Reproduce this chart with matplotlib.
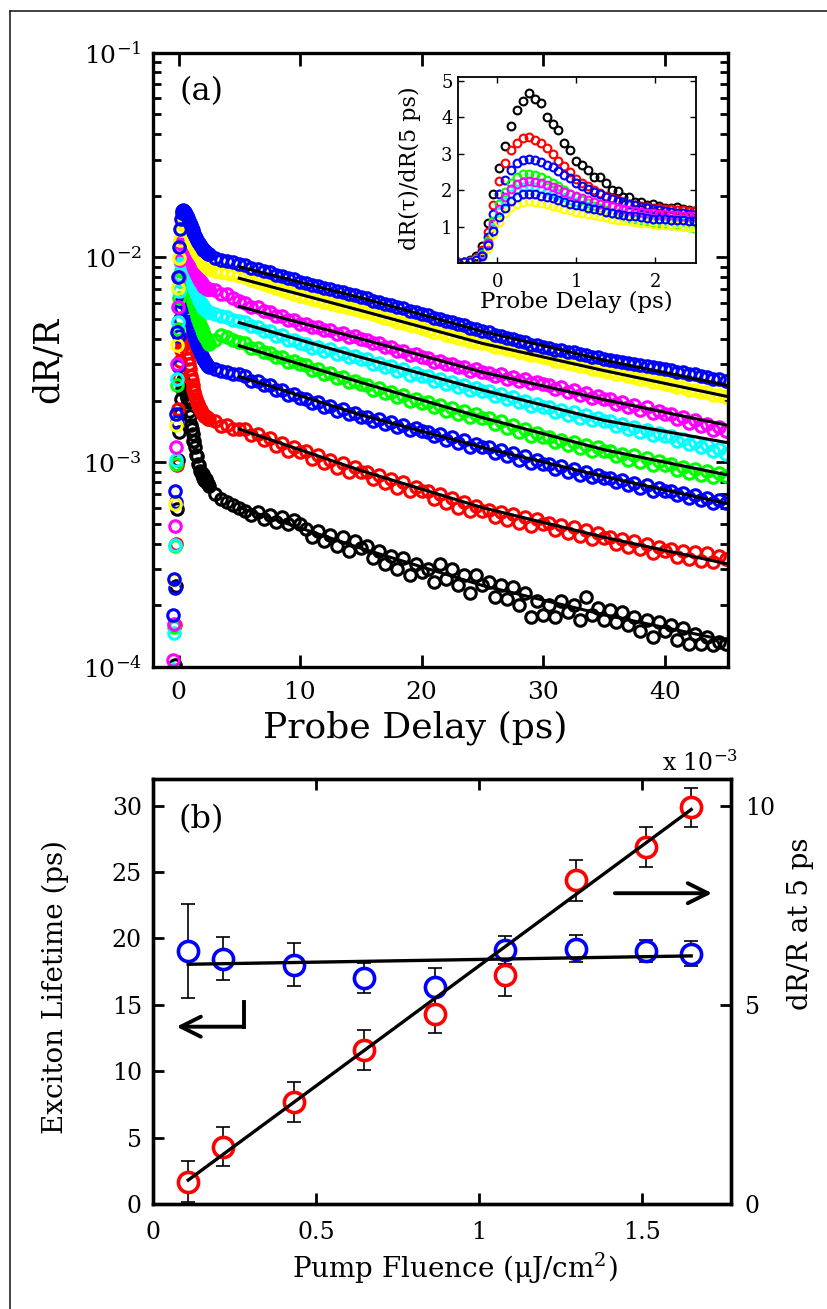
import numpy as np
import matplotlib
matplotlib.use("Agg")
from matplotlib import pyplot as plt
from matplotlib.lines import Line2D
from matplotlib.ticker import LogLocator, NullLocator

plt.rcParams["font.family"] = "DejaVu Serif"
plt.rcParams["mathtext.fontset"] = "dejavuserif"

W, H = 827, 1309

# ---------------- panel (a) data ----------------
# probe delays (ps): early window shown in the inset, then the slow tail
t_early = np.round(np.linspace(-0.5, 2.5, 41), 3)
t_late = np.round(np.arange(3.0, 45.01, 0.5), 1)
t_fit = [5, 15, 25, 35, 45]

# inset: dR(tau)/dR(5 ps) over t_early, lowest fluence first
ratio_k = [0.02, 0.04, 0.07, 0.19, 0.46, 1.1, 1.9, 2.6, 3.2, 3.75, 4.2, 4.45, 4.65,
           4.5, 4.4, 4.0, 3.8, 3.65, 3.3, 3.1, 2.8, 2.7, 2.55, 2.35, 2.35, 2.2, 2.0,
           1.98, 1.82, 1.8, 1.68, 1.66, 1.6, 1.62, 1.55, 1.52, 1.5, 1.53, 1.48, 1.45, 1.42]
ratio_r = [0.02, 0.03, 0.05, 0.14, 0.35, 0.85, 1.6, 2.25, 2.75, 3.1, 3.3, 3.42, 3.45,
           3.38, 3.3, 3.15, 3.0, 2.8, 2.65, 2.5, 2.3, 2.2, 2.1, 2.0, 1.92, 1.85, 1.78,
           1.72, 1.68, 1.63, 1.6, 1.57, 1.53, 1.5, 1.5, 1.48, 1.47, 1.45, 1.45, 1.43, 1.42]
ratio_b2 = [0.01, 0.02, 0.04, 0.11, 0.29, 0.71, 1.34, 1.88, 2.28, 2.56, 2.74, 2.82, 2.85,
            2.82, 2.78, 2.7, 2.62, 2.52, 2.42, 2.32, 2.2, 2.12, 2.04, 1.96, 1.88, 1.82,
            1.76, 1.7, 1.66, 1.62, 1.58, 1.54, 1.5, 1.47, 1.45, 1.43, 1.4, 1.38, 1.36, 1.34, 1.32]
ratio_g = [0.01, 0.02, 0.04, 0.1, 0.25, 0.61, 1.15, 1.62, 1.96, 2.2, 2.35, 2.43, 2.45,
           2.42, 2.36, 2.28, 2.2, 2.1, 2.0, 1.9, 1.8, 1.72, 1.64, 1.56, 1.5, 1.44, 1.38,
           1.33, 1.28, 1.24, 1.2, 1.17, 1.14, 1.11, 1.09, 1.07, 1.05, 1.03, 1.01, 0.99, 0.97]
ratio_c = [0.01, 0.02, 0.03, 0.08, 0.21, 0.52, 0.99, 1.39, 1.68, 1.89, 2.02, 2.08, 2.1,
           2.08, 2.04, 1.98, 1.92, 1.86, 1.8, 1.73, 1.66, 1.6, 1.55, 1.5, 1.45, 1.41, 1.37,
           1.33, 1.3, 1.27, 1.24, 1.22, 1.2, 1.18, 1.16, 1.15, 1.14, 1.13, 1.12, 1.11, 1.1]
ratio_m = [0.01, 0.02, 0.03, 0.09, 0.22, 0.56, 1.06, 1.49, 1.8, 2.03, 2.16, 2.23, 2.25,
           2.23, 2.19, 2.14, 2.08, 2.02, 1.96, 1.9, 1.84, 1.78, 1.73, 1.68, 1.63, 1.59,
           1.55, 1.51, 1.48, 1.45, 1.42, 1.4, 1.38, 1.36, 1.34, 1.33, 1.32, 1.31, 1.3, 1.3, 1.3]
ratio_y = [0.01, 0.01, 0.03, 0.07, 0.17, 0.42, 0.8, 1.12, 1.36, 1.53, 1.63, 1.68, 1.7,
           1.68, 1.65, 1.61, 1.57, 1.53, 1.49, 1.45, 1.41, 1.37, 1.34, 1.31, 1.28, 1.25,
           1.22, 1.19, 1.17, 1.15, 1.13, 1.11, 1.09, 1.07, 1.05, 1.04, 1.03, 1.02, 1.01, 1.0, 0.99]
ratio_b1 = [0.01, 0.02, 0.03, 0.08, 0.19, 0.48, 0.89, 1.25, 1.52, 1.71, 1.82, 1.88, 1.9,
            1.88, 1.85, 1.81, 1.77, 1.72, 1.68, 1.63, 1.59, 1.55, 1.51, 1.47, 1.44, 1.41,
            1.38, 1.35, 1.32, 1.3, 1.28, 1.26, 1.24, 1.22, 1.21, 1.2, 1.19, 1.18, 1.17, 1.16, 1.15]

# dR/R level (x1e-3) the early ratios refer to
early_scale = [0.54, 1.14, 2.2, 3.9, 4.9, 5.4, 8.9, 9.0]

# dR/R (x1e-3) on t_late
late_k = [0.7, 0.66, 0.64, 0.62, 0.6,
          0.58, 0.55, 0.57, 0.53, 0.55, 0.51, 0.54, 0.5, 0.52, 0.5,
          0.47, 0.43, 0.46, 0.41, 0.44, 0.39, 0.43, 0.37, 0.41, 0.38,
          0.39, 0.34, 0.37, 0.32, 0.35, 0.3, 0.34, 0.28, 0.32, 0.29,
          0.3, 0.26, 0.32, 0.27, 0.3, 0.25, 0.28, 0.23, 0.28, 0.25,
          0.26, 0.22, 0.25, 0.215, 0.245, 0.2, 0.23, 0.175, 0.21, 0.18,
          0.2, 0.175, 0.21, 0.185, 0.2, 0.17, 0.22, 0.18, 0.195, 0.17,
          0.19, 0.165, 0.185, 0.16, 0.175, 0.15, 0.17, 0.14, 0.165, 0.15,
          0.16, 0.135, 0.155, 0.13, 0.145, 0.13, 0.14, 0.128, 0.132, 0.13]
late_r = [1.58, 1.5, 1.52, 1.45, 1.46,
          1.45, 1.35, 1.38, 1.28, 1.31, 1.2, 1.24, 1.14, 1.18, 1.12,
          1.13, 1.04, 1.08, 0.99, 1.03, 0.94, 0.99, 0.9, 0.95, 0.9,
          0.9, 0.83, 0.87, 0.79, 0.83, 0.75, 0.8, 0.72, 0.76, 0.72,
          0.72, 0.66, 0.7, 0.63, 0.67, 0.6, 0.64, 0.575, 0.61, 0.575,
          0.585, 0.54, 0.57, 0.52, 0.56, 0.505, 0.54, 0.49, 0.525, 0.5,
          0.505, 0.465, 0.495, 0.45, 0.48, 0.435, 0.465, 0.42, 0.45, 0.427,
          0.43, 0.4, 0.42, 0.385, 0.41, 0.375, 0.4, 0.36, 0.385, 0.367,
          0.375, 0.345, 0.37, 0.335, 0.365, 0.33, 0.36, 0.325, 0.35, 0.336]
late_b2 = [2.86, 2.78, 2.77, 2.69, 2.68,
           2.64, 2.5, 2.5, 2.37, 2.37, 2.24, 2.25, 2.12, 2.14, 2.05,
           2.04, 1.94, 1.96, 1.85, 1.88, 1.78, 1.81, 1.71, 1.74, 1.67,
           1.66, 1.59, 1.62, 1.54, 1.57, 1.49, 1.52, 1.44, 1.47, 1.42,
           1.41, 1.34, 1.37, 1.29, 1.33, 1.24, 1.28, 1.19, 1.23, 1.18,
           1.18, 1.11, 1.15, 1.07, 1.11, 1.03, 1.07, 0.99, 1.03, 0.98,
           0.98, 0.93, 0.955, 0.9, 0.925, 0.87, 0.9, 0.845, 0.87, 0.84,
           0.84, 0.8, 0.82, 0.77, 0.795, 0.75, 0.77, 0.725, 0.745, 0.72,
           0.725, 0.69, 0.705, 0.67, 0.69, 0.65, 0.67, 0.635, 0.65, 0.63]
late_g = [3.95, 4.2, 4.1, 3.95, 3.85,
          3.8, 3.62, 3.6, 3.44, 3.43, 3.27, 3.26, 3.1, 3.11, 3.0,
          2.97, 2.82, 2.85, 2.7, 2.72, 2.58, 2.6, 2.46, 2.49, 2.4,
          2.39, 2.26, 2.3, 2.17, 2.21, 2.08, 2.12, 1.99, 2.03, 1.95,
          1.96, 1.85, 1.9, 1.78, 1.83, 1.72, 1.78, 1.67, 1.72, 1.65,
          1.65, 1.54, 1.58, 1.47, 1.52, 1.4, 1.45, 1.34, 1.39, 1.32,
          1.33, 1.25, 1.29, 1.21, 1.25, 1.17, 1.21, 1.13, 1.18, 1.13,
          1.13, 1.07, 1.1, 1.03, 1.08, 1.0, 1.05, 0.97, 1.01, 0.97,
          0.98, 0.92, 0.95, 0.89, 0.93, 0.87, 0.91, 0.85, 0.89, 0.86]
late_c = [5.3, 5.15, 5.1, 4.95, 4.9,
          4.82, 4.6, 4.58, 4.38, 4.36, 4.15, 4.16, 3.95, 3.96, 3.8,
          3.78, 3.62, 3.66, 3.5, 3.55, 3.38, 3.42, 3.26, 3.3, 3.2,
          3.18, 3.0, 3.06, 2.9, 2.95, 2.78, 2.84, 2.67, 2.72, 2.62,
          2.62, 2.5, 2.55, 2.41, 2.47, 2.33, 2.39, 2.26, 2.31, 2.23,
          2.22, 2.11, 2.15, 2.03, 2.08, 1.96, 2.0, 1.89, 1.93, 1.85,
          1.85, 1.76, 1.8, 1.7, 1.75, 1.65, 1.7, 1.6, 1.64, 1.58,
          1.58, 1.5, 1.54, 1.45, 1.49, 1.4, 1.44, 1.36, 1.39, 1.34,
          1.34, 1.27, 1.3, 1.22, 1.25, 1.18, 1.21, 1.13, 1.16, 1.1]
late_m = [6.9, 6.6, 6.65, 6.3, 6.1,
          6.0, 5.75, 5.72, 5.45, 5.42, 5.2, 5.18, 4.95, 4.92, 4.75,
          4.7, 4.55, 4.56, 4.4, 4.4, 4.24, 4.25, 4.1, 4.12, 4.0,
          3.95, 3.8, 3.8, 3.64, 3.65, 3.49, 3.5, 3.35, 3.36, 3.25,
          3.23, 3.1, 3.12, 3.0, 3.03, 2.9, 2.93, 2.8, 2.84, 2.75,
          2.74, 2.64, 2.68, 2.56, 2.61, 2.49, 2.54, 2.43, 2.47, 2.4,
          2.39, 2.28, 2.32, 2.2, 2.25, 2.13, 2.17, 2.06, 2.1, 2.03,
          2.03, 1.93, 1.96, 1.86, 1.9, 1.8, 1.85, 1.74, 1.78, 1.72,
          1.72, 1.63, 1.66, 1.55, 1.6, 1.5, 1.54, 1.44, 1.48, 1.42]
late_y = [8.6, 8.5, 8.38, 8.27, 8.15,
          7.98, 7.76, 7.62, 7.4, 7.27, 7.06, 6.95, 6.74, 6.62, 6.45,
          6.37, 6.23, 6.17, 6.03, 5.97, 5.84, 5.79, 5.65, 5.6, 5.5,
          5.4, 5.26, 5.2, 5.05, 4.99, 4.86, 4.8, 4.66, 4.61, 4.5,
          4.44, 4.33, 4.3, 4.18, 4.15, 4.04, 4.01, 3.91, 3.88, 3.8,
          3.76, 3.66, 3.65, 3.55, 3.54, 3.44, 3.43, 3.33, 3.32, 3.25,
          3.22, 3.13, 3.12, 3.04, 3.03, 2.95, 2.94, 2.86, 2.85, 2.8,
          2.77, 2.7, 2.69, 2.62, 2.61, 2.54, 2.54, 2.47, 2.47, 2.42,
          2.39, 2.33, 2.32, 2.26, 2.25, 2.19, 2.19, 2.12, 2.12, 2.08]
late_b1 = [9.9, 9.75, 9.6, 9.45, 9.3,
           9.15, 8.92, 8.8, 8.55, 8.45, 8.22, 8.1, 7.9, 7.8, 7.6,
           7.5, 7.3, 7.25, 7.05, 7.0, 6.85, 6.78, 6.6, 6.55, 6.4,
           6.3, 6.15, 6.08, 5.9, 5.85, 5.7, 5.65, 5.48, 5.42, 5.3,
           5.22, 5.08, 5.02, 4.88, 4.83, 4.7, 4.65, 4.5, 4.46, 4.35,
           4.3, 4.18, 4.15, 4.03, 4.0, 3.9, 3.87, 3.75, 3.73, 3.65,
           3.62, 3.54, 3.53, 3.45, 3.44, 3.36, 3.35, 3.27, 3.26, 3.2,
           3.17, 3.12, 3.1, 3.04, 3.03, 2.97, 2.96, 2.9, 2.89, 2.85,
           2.82, 2.77, 2.75, 2.7, 2.68, 2.63, 2.61, 2.56, 2.54, 2.5]

# fitted decays (x1e-3) at t_fit
fit_k = [0.6, 0.38, 0.25, 0.18, 0.135]
fit_r = [1.45, 0.91, 0.6, 0.43, 0.32]
fit_b2 = [2.62, 1.7, 1.18, 0.85, 0.63]
fit_g = [3.7, 2.45, 1.65, 1.15, 0.87]
fit_c = [4.8, 3.25, 2.25, 1.6, 1.25]
fit_m = [5.75, 4.0, 2.75, 2.02, 1.52]
fit_y = [7.9, 5.5, 3.8, 2.8, 2.1]
fit_b1 = [9.0, 6.35, 4.35, 3.15, 2.38]

colors = ["black", "#ff0000", "#0000ff", "#00ff00", "#00ffff", "#ff00ff", "#ffff00", "#0000ff"]
ratios = [ratio_k, ratio_r, ratio_b2, ratio_g, ratio_c, ratio_m, ratio_y, ratio_b1]
lates = [late_k, late_r, late_b2, late_g, late_c, late_m, late_y, late_b1]
fits = [fit_k, fit_r, fit_b2, fit_g, fit_c, fit_m, fit_y, fit_b1]

# ---------------- panel (b) data ----------------
fluence = [0.108, 0.216, 0.432, 0.648, 0.864, 1.08, 1.296, 1.512, 1.65]
lifetime = [19.05, 18.47, 18.02, 17.02, 16.34, 19.1, 19.22, 19.05, 18.85]
lifetime_err = [3.55, 1.6, 1.63, 1.15, 1.43, 1.05, 1.0, 0.85, 0.95]
dr5 = [0.56, 1.44, 2.56, 3.86, 4.78, 5.74, 8.12, 8.97, 9.96]   # x1e-3
dr5_err = [0.52, 0.49, 0.51, 0.5, 0.49, 0.52, 0.51, 0.5, 0.49]
fit_fluence = [0.108, 1.65]
lifetime_fit = [18.05, 18.68]
dr5_fit = [0.6, 9.9]

LEFT_MAX = 32
RIGHT_MAX = 32 / 3


def box(l, t, r, b):
    return [l / W, 1 - b / H, (r - l) / W, (b - t) / H]


def fpos(x, y):
    return x / W, 1 - y / H


fig = plt.figure(figsize=(W / 100, H / 100), dpi=100)

# ---- main transient panel ----
ax = fig.add_axes(box(153, 52.5, 728, 667))
for c, rat, sc, late in zip(colors, ratios, early_scale, lates):
    t = np.concatenate([t_early, t_late])
    y = np.concatenate([np.array(rat) * sc, late]) * 1e-3
    ax.plot(t, y, ls="none", marker="o", ms=8.3, mfc="none", mec=c, mew=2.2)
for f in fits:
    ax.plot(t_fit, np.array(f) * 1e-3, color="black", lw=2.2, zorder=5)

ax.set_yscale("log")
ax.set_ylim(1e-4, 1e-1)
ax.set_xlim(-2.1, 45.2)
ax.set_xticks([0, 10, 20, 30, 40])
ax.yaxis.set_minor_locator(LogLocator(subs=range(2, 10)))
ax.xaxis.set_minor_locator(NullLocator())
ax.tick_params(which="both", direction="in", top=True, right=True, width=2, labelsize=18)
ax.tick_params(which="major", length=9)
ax.tick_params(which="minor", length=6)
ax.tick_params(axis="y", pad=8)
ax.tick_params(axis="x", pad=10)
for s in ax.spines.values():
    s.set_linewidth(2.4)

# ---- inset ----
axi = fig.add_axes(box(458, 77, 696, 263))
for c, rat in zip(colors, ratios):
    axi.plot(t_early, rat, ls="none", marker="o", ms=5.6, mfc="none", mec=c, mew=1.5)
axi.set_xlim(-0.5, 2.52)
axi.set_ylim(0, 5.1)
axi.set_xticks([0, 1, 2])
axi.set_yticks([1, 2, 3, 4, 5])
axi.tick_params(direction="in", top=True, right=True, length=4, width=1, labelsize=13)
axi.tick_params(axis="y", pad=4)
axi.tick_params(axis="x", pad=7)
for s in axi.spines.values():
    s.set_linewidth(1.3)

# ---- panel (b) ----
axb = fig.add_axes(box(153, 779, 731, 1204))
to_left = LEFT_MAX / RIGHT_MAX
axb.errorbar(fluence, lifetime, yerr=lifetime_err, fmt="none", ecolor="black",
             elinewidth=1.2, capsize=5, capthick=1.2, zorder=1)
axb.errorbar(fluence, np.array(dr5) * to_left, yerr=np.array(dr5_err) * to_left, fmt="none",
             ecolor="black", elinewidth=1.2, capsize=5, capthick=1.2, zorder=1)
axb.plot(fluence, np.array(dr5) * to_left, ls="none", marker="o", ms=14.5, mfc="white",
         mec="#ff0000", mew=2.6, zorder=2)
axb.plot(fluence, lifetime, ls="none", marker="o", ms=14.5, mfc="white",
         mec="#0000ff", mew=2.6, zorder=2)
axb.plot(fit_fluence, lifetime_fit, color="black", lw=2.4, zorder=3)
axb.plot(fit_fluence, np.array(dr5_fit) * to_left, color="black", lw=2.4, zorder=3)

# arrows pointing at the relevant axes
axb.plot([0.279, 0.279], [15.2, 13.35], color="black", lw=2.8, solid_capstyle="projecting")
axb.annotate("", xy=(0.072, 13.35), xytext=(0.279, 13.35),
             arrowprops=dict(arrowstyle="->", lw=2.8, color="black", mutation_scale=36,
                             shrinkA=0, shrinkB=0))
axb.annotate("", xy=(1.714, 23.4), xytext=(1.416, 23.4),
             arrowprops=dict(arrowstyle="->", lw=2.8, color="black", mutation_scale=36,
                             shrinkA=0, shrinkB=0))

axb.set_xlim(0, 1.772)
axb.set_ylim(0, LEFT_MAX)
axb.set_xticks([0, 0.5, 1, 1.5])
axb.set_xticklabels(["0", "0.5", "1", "1.5"])
axb.set_yticks([0, 5, 10, 15, 20, 25, 30])
axb.tick_params(direction="in", top=True, right=True, width=2, length=8, labelsize=17)
axb.tick_params(axis="y", pad=8)
axb.tick_params(axis="x", pad=12)
for s in axb.spines.values():
    s.set_linewidth(2.4)

ax2 = axb.twinx()
ax2.set_ylim(0, RIGHT_MAX)
ax2.set_yticks([0, 5, 10])
ax2.tick_params(direction="in", width=2, length=8, labelsize=17, pad=10)
for s in ax2.spines.values():
    s.set_linewidth(2.4)

# ---- text ----
fig.text(*fpos(48, 360), "dR/R", rotation=90, ha="center", va="center", fontsize=25)
fig.text(*fpos(415, 728), "Probe Delay (ps)", ha="center", va="center", fontsize=26)
fig.text(*fpos(202, 92), "(a)", ha="center", va="center", fontsize=23)
fig.text(*fpos(410, 168), "dR(τ)/dR(5 ps)", rotation=90, ha="center", va="center", fontsize=16)
fig.text(*fpos(576, 302), "Probe Delay (ps)", ha="center", va="center", fontsize=16.5)
fig.text(*fpos(201, 820), "(b)", ha="center", va="center", fontsize=23)
fig.text(*fpos(55, 987), "Exciton Lifetime (ps)", rotation=90, ha="center", va="center", fontsize=20)
fig.text(*fpos(455, 1268), "Pump Fluence (μJ/cm$^{2}$)", ha="center", va="center", fontsize=20)
fig.text(*fpos(800, 924), "dR/R at 5 ps", rotation=90, ha="center", va="center", fontsize=20)
fig.text(*fpos(700, 763), "x 10$^{-3}$", ha="center", va="center", fontsize=17)

# frame around the figure (top and left edges are inside the image)
fig.add_artist(Line2D([9.5 / W, 1], [1 - 11 / H, 1 - 11 / H], transform=fig.transFigure,
                      color="#222222", lw=1.2))
fig.add_artist(Line2D([9.5 / W, 9.5 / W], [0, 1 - 11 / H], transform=fig.transFigure,
                      color="#222222", lw=1.2))

fig.savefig("out.png", dpi=100)
